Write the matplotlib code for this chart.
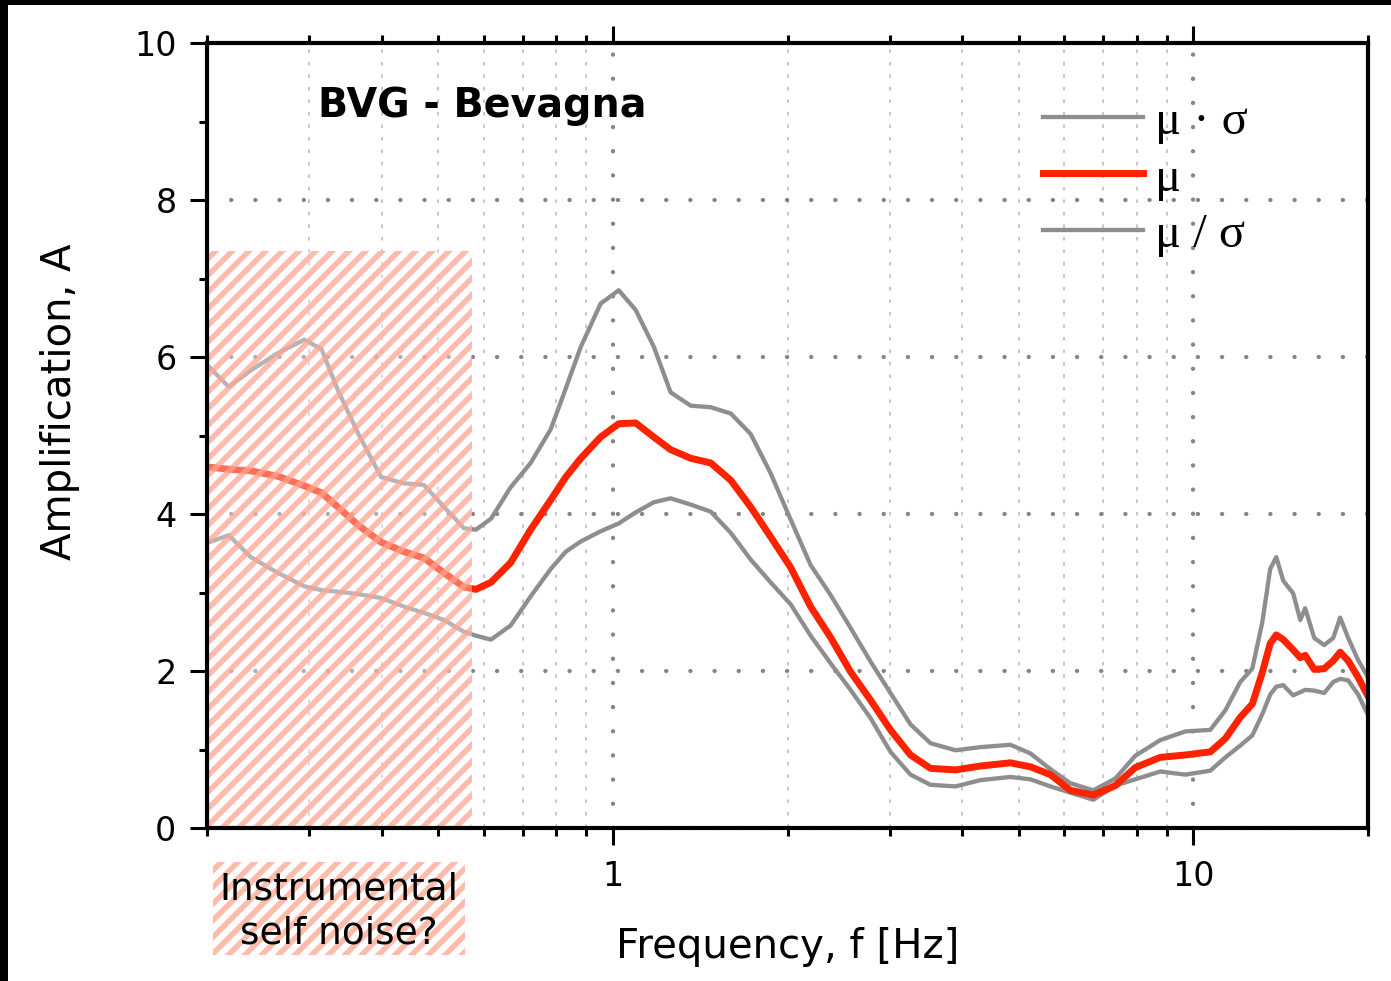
import numpy as np
import matplotlib
matplotlib.use("Agg")
import matplotlib.pyplot as plt
from matplotlib.patches import Rectangle
from matplotlib.ticker import MultipleLocator, NullFormatter

plt.rcParams['font.family'] = ['DejaVu Sans']
plt.rcParams['lines.scale_dashes'] = False
plt.rcParams['hatch.linewidth'] = 4.0

# data
freq = [0.200, 0.218, 0.238, 0.265, 0.294, 0.315, 0.336, 0.364, 0.399, 0.437,
        0.473, 0.512, 0.554, 0.581, 0.617, 0.667, 0.722, 0.782, 0.830, 0.881,
        0.953, 1.024, 1.095, 1.177, 1.258, 1.362, 1.475, 1.597, 1.728, 1.870,
        2.025, 2.192, 2.372, 2.568, 2.780, 3.009, 3.258, 3.527, 3.894, 4.300,
        4.842, 5.242, 5.674, 6.142, 6.728, 7.341, 7.945, 8.774, 9.687, 10.70,
        11.36, 12.05, 12.64, 13.15, 13.57, 13.90, 14.29, 14.86, 15.29, 15.59,
        16.16, 16.81, 17.42, 17.91, 18.49, 19.23, 20.0]

mu = [4.60, 4.57, 4.55, 4.48, 4.36, 4.27, 4.09, 3.86, 3.64, 3.52,
      3.44, 3.25, 3.07, 3.04, 3.13, 3.38, 3.80, 4.18, 4.47, 4.71,
      4.98, 5.15, 5.16, 4.98, 4.82, 4.71, 4.65, 4.43, 4.09, 3.71,
      3.32, 2.82, 2.43, 1.99, 1.63, 1.25, 0.93, 0.76, 0.74, 0.79,
      0.83, 0.78, 0.68, 0.48, 0.42, 0.54, 0.77, 0.90, 0.93, 0.97,
      1.14, 1.41, 1.58, 1.98, 2.35, 2.46, 2.40, 2.27, 2.17, 2.20,
      2.02, 2.03, 2.13, 2.24, 2.13, 1.92, 1.68]

mu_times_sigma = [5.90, 5.62, 5.83, 6.05, 6.22, 6.10, 5.58, 5.03, 4.47, 4.39,
                  4.37, 4.09, 3.82, 3.80, 3.94, 4.34, 4.65, 5.08, 5.60, 6.13,
                  6.68, 6.85, 6.60, 6.13, 5.55, 5.38, 5.36, 5.28, 5.02, 4.52,
                  3.93, 3.35, 2.97, 2.55, 2.12, 1.72, 1.32, 1.08, 0.99, 1.03,
                  1.06, 0.95, 0.75, 0.57, 0.48, 0.63, 0.92, 1.12, 1.23, 1.25,
                  1.50, 1.86, 2.03, 2.62, 3.30, 3.45, 3.15, 2.99, 2.65, 2.80,
                  2.42, 2.33, 2.42, 2.68, 2.42, 2.14, 1.92]

mu_over_sigma = [3.63, 3.73, 3.45, 3.25, 3.08, 3.03, 3.01, 2.98, 2.93, 2.82,
                 2.74, 2.65, 2.50, 2.45, 2.40, 2.58, 2.95, 3.30, 3.52, 3.65,
                 3.78, 3.88, 4.02, 4.15, 4.20, 4.12, 4.03, 3.76, 3.42, 3.13,
                 2.85, 2.45, 2.10, 1.76, 1.40, 0.97, 0.68, 0.55, 0.53, 0.61,
                 0.65, 0.62, 0.53, 0.45, 0.36, 0.54, 0.62, 0.72, 0.68, 0.73,
                 0.90, 1.05, 1.18, 1.45, 1.70, 1.80, 1.82, 1.69, 1.73, 1.76,
                 1.75, 1.72, 1.86, 1.90, 1.88, 1.70, 1.44]

noise_band = (0.2, 0.572)
noise_top = 7.35
xtick_vals = [1, 10]
xtick_labels = ['1', '10']
ytick_vals = [0, 2, 4, 6, 8, 10]

GRAY = '#8e8e8e'
RED = '#ff2200'
SALMON = '#ffbcaa'

fig = plt.figure(figsize=(13.91, 9.81), dpi=100, facecolor='white')
ax = fig.add_axes([207/1391, 153/981, 1161/1391, 785/981])

# black frame strips (top / left) like the original screenshot
fig.patches.append(Rectangle((0, 1 - 5/981), 1, 5/981, transform=fig.transFigure,
                             facecolor='black', edgecolor='none'))
fig.patches.append(Rectangle((0, 0), 8/1391, 1, transform=fig.transFigure,
                             facecolor='black', edgecolor='none'))

ax.plot(freq, mu_times_sigma, color=GRAY, lw=3.1, label='\u03bc \u00b7 \u03c3', zorder=3,
        solid_joinstyle='round')
ax.plot(freq, mu, color=RED, lw=5.0, label='\u03bc', zorder=4, solid_joinstyle='round')
ax.plot(freq, mu_over_sigma, color=GRAY, lw=3.1, label='\u03bc / \u03c3', zorder=3,
        solid_joinstyle='round')

# noise band overlay
ax.add_patch(Rectangle((noise_band[0], 0), noise_band[1] - noise_band[0], noise_top,
                       facecolor=(1, 1, 1, 0.35), edgecolor=(1, 0.64, 0.56, 0.72),
                       lw=0, hatch='//', zorder=5))

ax.set_xscale('log')
ax.set_xlim(0.2, 20)
ax.set_ylim(0, 10)
ax.set_xticks(xtick_vals, xtick_labels)
ax.xaxis.set_minor_formatter(NullFormatter())
ax.set_yticks(ytick_vals)
ax.yaxis.set_minor_locator(MultipleLocator(1))

ax.grid(True, which='major', axis='y', color='#858585', lw=3.1,
        linestyle=(0, (0.1, 17.3)), dash_capstyle='round', zorder=1)
ax.grid(True, which='major', axis='x', color='#858585', lw=3.1,
        linestyle=(0, (0.1, 17.3)), dash_capstyle='round', zorder=1)
ax.grid(True, which='minor', axis='x', color='#c6c6c6', lw=1.4,
        linestyle=(0, (2.6, 6.4)), zorder=1)
ax.set_axisbelow(True)

for s in ax.spines.values():
    s.set_linewidth(3)
    s.set_zorder(6)

ax.tick_params(which='both', direction='out', top=True, right=False, width=2.2,
               labelsize=24)
ax.tick_params(which='major', length=12, pad=10)
ax.tick_params(which='minor', length=6)
ax.tick_params(axis='x', which='major', pad=11)

ax.set_xlabel('Frequency, f [Hz]', fontsize=29)
ax.set_ylabel('Amplification, A', fontsize=29)
ax.xaxis.set_label_coords(0.5, -0.126)
ax.yaxis.set_label_coords(-0.109, 0.543)

ax.text(0.0956, 0.9057, 'BVG - Bevagna', transform=ax.transAxes, fontsize=28.5,
        fontweight='bold', va='baseline', ha='left')

# label box under the noise band
ax.add_patch(Rectangle((0.0052, -0.162), 0.217, 0.119, transform=ax.transAxes,
                       clip_on=False, facecolor='white', edgecolor=SALMON,
                       lw=0, hatch='//', zorder=2))
ax.text(0.0052 + 0.217/2, -0.1065, 'Instrumental\nself noise?', transform=ax.transAxes,
        fontsize=27, ha='center', va='center', linespacing=1.3, zorder=3)

ax.legend(loc='upper left', bbox_to_anchor=(0.72, 0.927), frameon=False,
          prop={'family': 'Liberation Serif', 'size': 35}, handlelength=2.06,
          handletextpad=0.25, labelspacing=0.25, borderpad=0, borderaxespad=0)

fig.savefig('out.png', dpi=100, facecolor='white')
